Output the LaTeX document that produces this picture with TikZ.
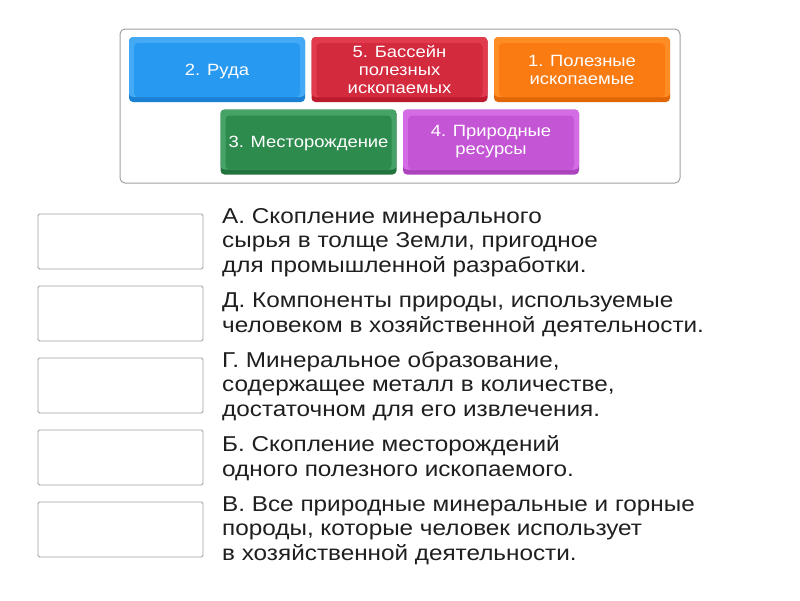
\documentclass[tikz,border=0pt]{standalone}
\usepackage{fontspec}
\setmainfont{Liberation Sans}[FakeStretch=1.13]
\definecolor{frame}{HTML}{A0A0A0}
\definecolor{blueF}{HTML}{2799F0}\definecolor{blueL}{HTML}{45AAF5}\definecolor{blueD}{HTML}{1A80D4}
\definecolor{redF}{HTML}{D42A3E}\definecolor{redL}{HTML}{E23B4E}\definecolor{redD}{HTML}{BC1A2D}
\definecolor{oraF}{HTML}{FA7B12}\definecolor{oraL}{HTML}{FF8D26}\definecolor{oraD}{HTML}{E06606}
\definecolor{greF}{HTML}{2E8B4E}\definecolor{greL}{HTML}{46A266}\definecolor{greD}{HTML}{22733E}
\definecolor{purF}{HTML}{C456D6}\definecolor{purL}{HTML}{D46CE6}\definecolor{purD}{HTML}{AC44BE}
\tikzset{
  tile/.style n args={3}{draw=none, fill=#3, rounded corners=4pt, minimum width=176pt, minimum height=65pt, inner sep=0pt,
    path picture={
      \fill[#2] (path picture bounding box.north west) rectangle ([yshift=5pt]path picture bounding box.south east);
      \fill[#1] ([xshift=5pt,yshift=-6pt]path picture bounding box.north west) rectangle ([xshift=-5pt,yshift=5pt]path picture bounding box.south east);
    }},
  tiletext/.style={text=white, align=center, font=\fontsize{16.3}{18}\selectfont, inner sep=0pt},
  ansbox/.style={draw=frame, line width=0.9pt, rounded corners=1.5pt, fill=white, minimum width=165pt, minimum height=55pt, inner sep=0pt},
  desc/.style={anchor=base west, align=left, text=black!88, font=\fontsize{21.5}{24.5}\selectfont, inner sep=0pt},
  container/.style={draw=frame, line width=1pt, rounded corners=5pt}
}
\begin{document}
\begin{tikzpicture}[x=1pt,y=-1pt]
\useasboundingbox (0,0) rectangle (800,600);
\fill[white] (0,0) rectangle (800,600);
\node[container, minimum width=560pt, minimum height=154pt] (cont) at (400,106) {};
\node[tile={blueF}{blueL}{blueD}] (t2) at (217,69.5) {};
\node[tile={redF}{redL}{redD}] (t5) at (399.5,69.5) {};
\node[tile={oraF}{oraL}{oraD}] (t1) at (582,69.5) {};
\node[tile={greF}{greL}{greD}] (t3) at (308.5,142) {};
\node[tile={purF}{purL}{purD}] (t4) at (491,142) {};
\node[tiletext] (l2) at ([yshift=-2pt]t2.center) {2. Руда};
\node[tiletext] (l5) at (t5.center) {5. Бассейн\\полезных\\ископаемых};
\node[tiletext] (l1) at (t1.center) {1. Полезные\\ископаемые};
\node[tiletext] (l3) at ([yshift=-1pt]t3.center) {3. Месторождение};
\node[tiletext] (l4) at (t4.center) {4. Природные\\ресурсы};
\node[ansbox] (b1) at (120.5,241.5) {};
\node[ansbox] (b2) at (120.5,313.5) {};
\node[ansbox] (b3) at (120.5,385.5) {};
\node[ansbox] (b4) at (120.5,457.5) {};
\node[ansbox] (b5) at (120.5,529.5) {};
\node[desc] (dA) at (222,272) {А. Скопление минерального\\сырья в толще Земли, пригодное\\для промышленной разработки.};
\node[desc] (dD) at (222,332) {Д. Компоненты природы, используемые\\человеком в хозяйственной деятельности.};
\node[desc] (dG) at (222,416) {Г. Минеральное образование,\\содержащее металл в количестве,\\достаточном для его извлечения.};
\node[desc] (dB) at (222,476) {Б. Скопление месторождений\\одного полезного ископаемого.};
\node[desc] (dV) at (222,560) {В. Все природные минеральные и горные\\породы, которые человек использует\\в хозяйственной деятельности.};
\end{tikzpicture}
\end{document}
